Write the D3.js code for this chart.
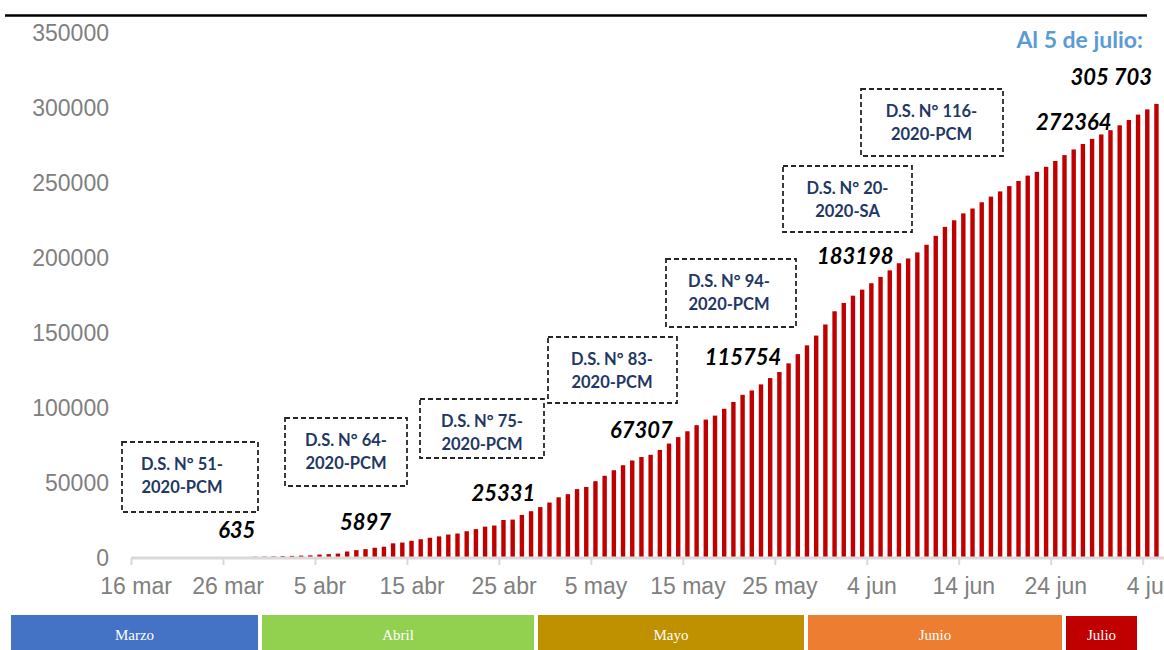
<!DOCTYPE html>
<html>
<head>
<meta charset="utf-8">
<script src="https://cdn.jsdelivr.net/npm/d3@7"></script>
<style>
  html, body { margin: 0; padding: 0; background: #ffffff; }
  svg { display: block; }
</style>
</head>
<body>
<svg id="chart" width="1164" height="650"></svg>
<script>
// ---------------- DATA ----------------
const startDate = "2020-03-16";   // first bar
const endDate = "2020-07-06";     // day after last bar
// cumulative confirmed cases, one per day from 16 mar to 5 jul
const casesMarch = [86, 117, 145, 234, 263, 318, 363, 395, 416, 480, 580, 635, 671, 852, 950, 1065];
const casesApril = [1323, 1414, 1595, 1746, 2281, 2561, 2954, 4342, 5256, 5897, 6848, 7519, 9784, 10303, 11475,
  12491, 13489, 14420, 15628, 16325, 17837, 19250, 20914, 21648, 25331, 25600, 28699, 31190, 33931, 36976];
const casesMay = [40459, 42534, 45928, 47372, 51189, 54817, 58526, 61847, 65015, 67307, 68822, 72059, 76306, 80604,
  84495, 88541, 92273, 94933, 99483, 104020, 108769, 111698, 115754, 119959, 123979, 129751, 135905, 141779,
  148285, 155671, 164476];
const casesJune = [170039, 174884, 178914, 183198, 187400, 191758, 196515, 199696, 203736, 208823, 214788, 220749,
  225132, 229736, 232992, 237156, 240908, 244388, 247925, 251338, 254936, 257447, 260810, 264689, 268602, 272364,
  275989, 279419, 282365, 285213];
const casesJuly = [288477, 292004, 295599, 299080, 302718];

const yTicks = [0, 50000, 100000, 150000, 200000, 250000, 300000, 350000];
const xTickDates = ["2020-03-16", "2020-03-26", "2020-04-05", "2020-04-15", "2020-04-25", "2020-05-05",
  "2020-05-15", "2020-05-25", "2020-06-04", "2020-06-14", "2020-06-24", "2020-07-04"];
const xTickLabels = ["16 mar", "26 mar", "5 abr", "15 abr", "25 abr", "5 may", "15 may", "25 may",
  "4 jun", "14 jun", "24 jun", "4 jul"];

// highlighted values
const highlightDates = ["2020-03-27", "2020-04-10", "2020-04-25", "2020-05-10", "2020-05-23", "2020-06-04", "2020-06-26"];
const highlightTexts = ["635", "5897", "25331", "67307", "115754", "183198", "272364"];
const finalTitle = "Al 5 de julio:";
const finalDate = "2020-07-05";
const finalValue = 305703;
const finalText = "305 703";

// decrees
const decreeLine1 = ["D.S. N° 51-", "D.S. N° 64-", "D.S. N° 75-", "D.S. N° 83-", "D.S. N° 94-", "D.S. N° 20-", "D.S. N° 116-"];
const decreeLine2 = ["2020-PCM", "2020-PCM", "2020-PCM", "2020-PCM", "2020-PCM", "2020-SA", "2020-PCM"];

// month strip
const months = ["Marzo", "Abril", "Mayo", "Junio", "Julio"];

// ---------------- LAYOUT / STYLE ----------------
const highlightDx = [0, 0, 0, 0, -18, -16, 0];
const decreeBoxes = [ // x, y, w, h, text centre x
  [122, 442, 136, 70, 182],
  [285, 418, 122, 68, 346],
  [420, 399, 124, 59, 482],
  [548, 337, 129, 66, 612],
  [666, 259, 130, 68, 729],
  [783, 166, 129, 66, 847.5],
  [861, 89, 142, 67, 931.5]
];
const monthBoxes = [ // x0, x1, y0, colour
  [11, 258, 615, "#4472C4"],
  [262, 534, 615, "#92D050"],
  [538, 804, 615, "#BF9000"],
  [808, 1062, 615, "#ED7D31"],
  [1066, 1137, 616, "#C00000"]
];

const svg = d3.select("#chart");
const parse = d3.timeParse("%Y-%m-%d");
const values = [].concat(casesMarch, casesApril, casesMay, casesJune, casesJuly);
const days = d3.timeDay.range(parse(startDate), parse(endDate));
const data = days.map((d, i) => ({ date: d, value: values[i] }));

const x0 = 131, dayW = 9.197;
const x = d3.scaleTime()
  .domain([parse(startDate), parse(endDate)])
  .range([x0, x0 + days.length * dayW]);
const y = d3.scaleLinear().domain([0, 350000]).range([558, 33]);
const half = dayW / 2;
const barW = 4.4;

// top rule
svg.append("line").attr("x1", 5).attr("x2", 1147).attr("y1", 15.5).attr("y2", 15.5)
  .attr("stroke", "#000").attr("stroke-width", 2.6);

// y labels
svg.append("g").selectAll("text").data(yTicks).join("text")
  .attr("x", 109).attr("y", d => y(d) + 8.3)
  .attr("text-anchor", "end")
  .attr("font-family", "Liberation Sans, Arial, sans-serif")
  .attr("font-size", 23).attr("fill", "#808080")
  .text(d => d);

// bars
svg.append("g").selectAll("rect").data(data).join("rect")
  .attr("x", d => x(d.date) + half - barW / 2)
  .attr("width", barW)
  .attr("y", d => y(d.value))
  .attr("height", d => y(0) - y(d.value))
  .attr("fill", "#C00000");

// x axis
const xAxis = d3.axisBottom(x)
  .tickValues(xTickDates.map(parse))
  .tickSize(7)
  .tickSizeOuter(0)
  .tickFormat((d, i) => xTickLabels[i]);
const gx = svg.append("g").attr("transform", `translate(0,${y(0)})`).call(xAxis);
gx.select(".domain").attr("stroke", "#d9d9d9").attr("stroke-width", 2.8)
  .attr("d", `M${x0},0H1164`);
gx.selectAll(".tick line").attr("stroke", "#d9d9d9").attr("stroke-width", 2);
gx.selectAll(".tick text")
  .attr("x", half).attr("y", 36).attr("dy", null)
  .attr("font-family", "Liberation Sans, Arial, sans-serif")
  .attr("font-size", 23).attr("fill", "#808080");

// highlighted values
const hl = highlightDates.map((d, i) => {
  const dt = parse(d);
  const rec = data.find(r => +r.date === +dt);
  return { date: dt, value: rec.value, text: highlightTexts[i], dx: highlightDx[i] };
});
svg.append("g").selectAll("text").data(hl).join("text")
  .attr("x", d => x(d.date) + half + d.dx)
  .attr("y", d => y(d.value) - 19)
  .attr("text-anchor", "middle")
  .attr("font-family", "Lato, sans-serif")
  .attr("font-weight", "bold").attr("font-style", "italic")
  .attr("font-size", 22).attr("fill", "#000")
  .text(d => d.text);

// final value
svg.append("text")
  .attr("x", x(parse(finalDate)) + half - 4.5)
  .attr("y", y(finalValue) - 14.5)
  .attr("text-anchor", "end")
  .attr("font-family", "Lato, sans-serif")
  .attr("font-weight", "bold").attr("font-style", "italic")
  .attr("font-size", 22).attr("fill", "#000")
  .text(finalText);
svg.append("text")
  .attr("x", 1143).attr("y", 48)
  .attr("text-anchor", "end")
  .attr("font-family", "Lato, sans-serif")
  .attr("font-weight", "bold")
  .attr("font-size", 23).attr("fill", "#5B9BD5")
  .text(finalTitle);

// decree boxes
const dg = svg.append("g").selectAll("g").data(decreeBoxes).join("g");
dg.append("rect")
  .attr("x", d => d[0]).attr("y", d => d[1]).attr("width", d => d[2]).attr("height", d => d[3])
  .attr("fill", "none").attr("stroke", "#262626").attr("stroke-width", 1.8)
  .attr("stroke-dasharray", "5,3");
dg.append("text")
  .attr("x", d => d[4]).attr("y", d => d[1] + 28)
  .attr("text-anchor", "middle")
  .attr("font-family", "Lato, sans-serif").attr("font-weight", "bold")
  .attr("font-size", 16.5).attr("fill", "#1F3864")
  .text((d, i) => decreeLine1[i]);
dg.append("text")
  .attr("x", d => d[4]).attr("y", d => d[1] + 51)
  .attr("text-anchor", "middle")
  .attr("font-family", "Lato, sans-serif").attr("font-weight", "bold")
  .attr("font-size", 16.5).attr("fill", "#1F3864")
  .text((d, i) => decreeLine2[i]);

// month strip
const mg = svg.append("g").selectAll("g").data(monthBoxes).join("g");
mg.append("rect")
  .attr("x", d => d[0]).attr("y", d => d[2])
  .attr("width", d => d[1] - d[0]).attr("height", d => 650 - d[2])
  .attr("fill", d => d[3]);
mg.append("text")
  .attr("x", d => (d[0] + d[1]) / 2).attr("y", 640)
  .attr("text-anchor", "middle")
  .attr("font-family", "Liberation Serif, Times New Roman, serif")
  .attr("font-size", 15).attr("fill", "#ffffff")
  .text((d, i) => months[i]);
</script>
</body>
</html>
